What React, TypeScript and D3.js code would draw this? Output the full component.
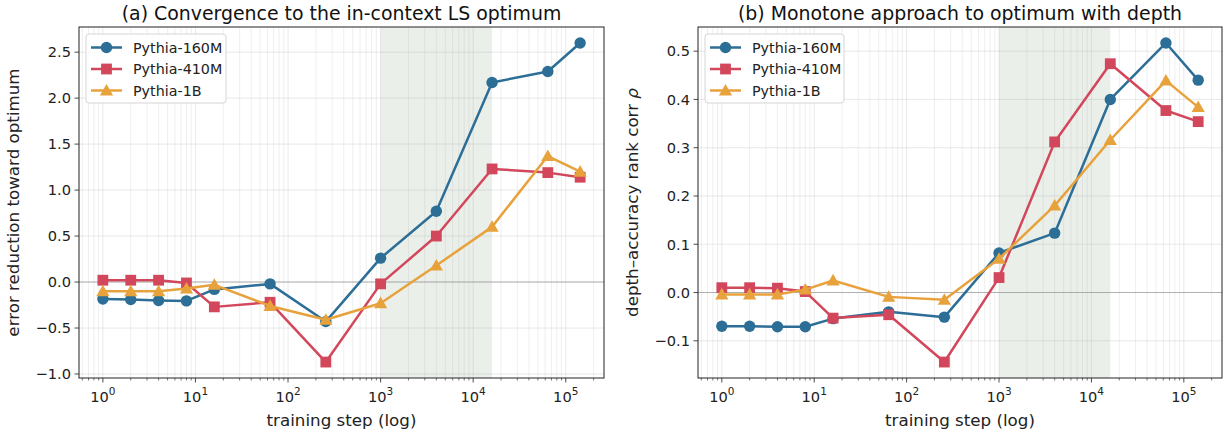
import React from "react";
import * as d3 from "d3";

const steps = [1, 2, 4, 8, 16, 64, 256, 1000, 4000, 16000, 64000, 143000];
const seriesNames = ["Pythia-160M", "Pythia-410M", "Pythia-1B"];
const seriesColors = ["#2c6e96", "#d2475b", "#e8a23c"];
const seriesMarkers = ["circle", "square", "triangle"];

const errReduction160M = [-0.185, -0.19, -0.2, -0.205, -0.08, -0.02, -0.43, 0.26, 0.77, 2.17, 2.29, 2.6];
const errReduction410M = [0.02, 0.02, 0.02, -0.01, -0.27, -0.22, -0.87, -0.02, 0.5, 1.23, 1.19, 1.14];
const errReduction1B = [-0.1, -0.1, -0.1, -0.07, -0.03, -0.26, -0.41, -0.23, 0.18, 0.6, 1.37, 1.2];

const rankCorr160M = [-0.07, -0.07, -0.071, -0.071, -0.054, -0.04, -0.051, 0.082, 0.123, 0.4, 0.517, 0.44];
const rankCorr410M = [0.01, 0.01, 0.009, 0.002, -0.053, -0.046, -0.144, 0.031, 0.312, 0.474, 0.377, 0.354];
const rankCorr1B = [-0.004, -0.004, -0.004, 0.006, 0.025, -0.009, -0.015, 0.07, 0.18, 0.316, 0.439, 0.384];

const leftYTicks = [-1.0, -0.5, 0.0, 0.5, 1.0, 1.5, 2.0, 2.5];
const rightYTicks = [-0.1, 0.0, 0.1, 0.2, 0.3, 0.4, 0.5];
const xDecades = [0, 1, 2, 3, 4, 5];
const shadeRange = [1000, 16000];

const FONT = "DejaVu Sans, sans-serif";

function Marker({ kind, x, y, color }: { kind: string; x: number; y: number; color: string }) {
  if (kind === "circle") return <circle cx={x} cy={y} r={5.7} fill={color} />;
  if (kind === "square") return <rect x={x - 5.4} y={y - 5.4} width={10.8} height={10.8} fill={color} />;
  const s = 6.6;
  return <path d={`M${x},${y - s}L${x + s},${y + s * 0.75}L${x - s},${y + s * 0.75}Z`} fill={color} />;
}

function Panel({
  left, width, top, height, title, ylabel, yTicks, yFmt, series, legendW,
}: {
  left: number; width: number; top: number; height: number; title: string; ylabel: React.ReactNode;
  yTicks: number[]; yFmt: (v: number) => string; series: number[][]; legendW: number;
}) {
  const lx0 = 0, lx1 = Math.log10(143000);
  const mx = (lx1 - lx0) * 0.05;
  const x = d3.scaleLog().domain([Math.pow(10, lx0 - mx), Math.pow(10, lx1 + mx)]).range([left, left + width]);
  const all = series.flat();
  const mn = d3.min(all)!, mxv = d3.max(all)!;
  const my = (mxv - mn) * 0.05;
  const y = d3.scaleLinear().domain([mn - my, mxv + my]).range([top + height, top]);
  const [d0, d1] = x.domain();
  const minor: number[] = [];
  for (let e = -1; e <= 6; e++) for (let k = 2; k <= 9; k++) {
    const v = k * Math.pow(10, e);
    if (v >= d0 && v <= d1) minor.push(v);
  }
  const line = d3.line<number>().x((_, i) => x(steps[i])).y((d) => y(d));
  const bottom = top + height;
  return (
    <g>
      <rect x={x(shadeRange[0])} y={top} width={x(shadeRange[1]) - x(shadeRange[0])} height={height} fill="#8aa888" opacity={0.18} />
      {minor.map((v, i) => (
        <line key={"mg" + i} x1={x(v)} x2={x(v)} y1={top} y2={bottom} stroke="#b0b0b0" strokeOpacity={0.25} strokeWidth={0.8} />
      ))}
      {xDecades.map((e) => (
        <line key={"Mg" + e} x1={x(Math.pow(10, e))} x2={x(Math.pow(10, e))} y1={top} y2={bottom} stroke="#b0b0b0" strokeOpacity={0.35} strokeWidth={0.8} />
      ))}
      {yTicks.map((t) => (
        <line key={"yg" + t} x1={left} x2={left + width} y1={y(t)} y2={y(t)} stroke="#b0b0b0" strokeOpacity={0.35} strokeWidth={0.8} />
      ))}
      <line x1={left} x2={left + width} y1={y(0)} y2={y(0)} stroke="#999" strokeOpacity={0.7} strokeWidth={1.1} />
      {series.map((s, si) => (
        <g key={"s" + si}>
          <path d={line(s)!} fill="none" stroke={seriesColors[si]} strokeWidth={2.5} strokeLinejoin="round" />
          {s.map((v, i) => (
            <Marker key={i} kind={seriesMarkers[si]} x={x(steps[i])} y={y(v)} color={seriesColors[si]} />
          ))}
        </g>
      ))}
      <rect x={left} y={top} width={width} height={height} fill="none" stroke="#222" strokeWidth={1} />
      {minor.map((v, i) => (
        <line key={"mt" + i} x1={x(v)} x2={x(v)} y1={bottom} y2={bottom + 2.5} stroke="#222" strokeWidth={0.6} />
      ))}
      {xDecades.map((e) => (
        <g key={"xt" + e}>
          <line x1={x(Math.pow(10, e))} x2={x(Math.pow(10, e))} y1={bottom} y2={bottom + 4.5} stroke="#222" strokeWidth={0.8} />
          <text x={x(Math.pow(10, e))} y={bottom + 23.5} textAnchor="middle" fontFamily={FONT} fontSize={14.6} fill="#222">
            10<tspan dy={-6.5} fontSize={10.5}>{e}</tspan>
          </text>
        </g>
      ))}
      {yTicks.map((t) => (
        <g key={"yt" + t}>
          <line x1={left - 4.5} x2={left} y1={y(t)} y2={y(t)} stroke="#222" strokeWidth={0.8} />
          <text x={left - 8} y={y(t)} dy="0.36em" textAnchor="end" fontFamily={FONT} fontSize={14.6} fill="#222">{yFmt(t)}</text>
        </g>
      ))}
      <text x={left + width / 2} y={top - 7.5} textAnchor="middle" fontFamily={FONT} fontSize={18.9} fill="#111">{title}</text>
      <text x={left + width / 2} y={bottom + 48} textAnchor="middle" fontFamily={FONT} fontSize={16.7} fill="#222">training step (log)</text>
      <text transform={`translate(${left - 60},${top + height / 2}) rotate(-90)`} textAnchor="middle" fontFamily={FONT} fontSize={16.7} fill="#222">{ylabel}</text>
      <g transform={`translate(${left + 7},${top + 7})`}>
        <rect x={0} y={0} width={legendW} height={69} rx={3} fill="#fff" fillOpacity={0.85} stroke="#d5d5d5" />
        {seriesNames.map((n, i) => (
          <g key={n} transform={`translate(0,${13.5 + i * 21.5})`}>
            <line x1={5} x2={36} y1={0} y2={0} stroke={seriesColors[i]} strokeWidth={2.5} />
            <Marker kind={seriesMarkers[i]} x={20.5} y={0} color={seriesColors[i]} />
            <text x={47} y={0} dy="0.36em" fontFamily={FONT} fontSize={14.3} fill="#222">{n}</text>
          </g>
        ))}
      </g>
    </g>
  );
}

export default function App() {
  const minus = (s: string) => s.replace("-", "\u2212");
  return (
    <svg width={1228} height={436} style={{ position: "absolute", left: 0, top: 0, background: "#fff" }}>
      <rect width={1228} height={436} fill="#fff" />
      <Panel left={79} width={525} top={27} height={351}
        title="(a) Convergence to the in-context LS optimum"
        ylabel="error reduction toward optimum"
        yTicks={leftYTicks} yFmt={(v) => minus(v.toFixed(1))} legendW={140}
        series={[errReduction160M, errReduction410M, errReduction1B]} />
      <Panel left={698} width={524} top={27} height={351}
        title="(b) Monotone approach to optimum with depth"
        ylabel={<>depth–accuracy rank corr <tspan fontStyle="italic">ρ</tspan></>}
        yTicks={rightYTicks} yFmt={(v) => minus(v.toFixed(1))} legendW={139}
        series={[rankCorr160M, rankCorr410M, rankCorr1B]} />
    </svg>
  );
}
